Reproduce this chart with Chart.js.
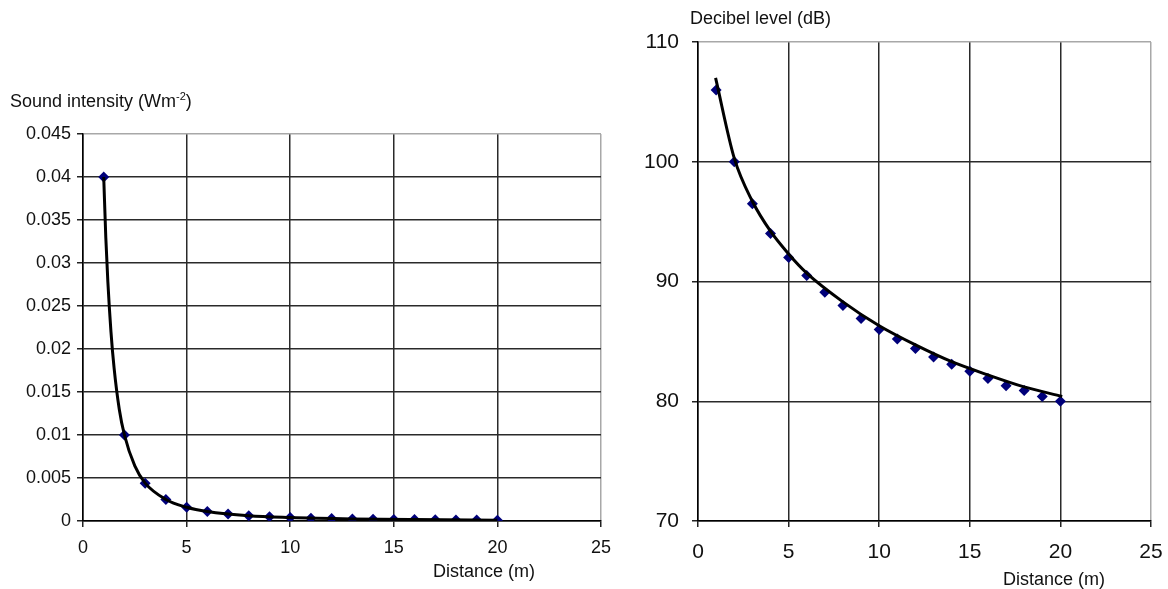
<!DOCTYPE html>
<html>
<head>
<meta charset="utf-8">
<script src="https://cdn.jsdelivr.net/npm/chart.js@4.4.0/dist/chart.umd.min.js"></script>
<style>
  body { margin: 0; background: #fff; width: 1168px; height: 589px; position: relative; overflow: hidden; font-family: "Liberation Sans", Arial, sans-serif; }
  canvas { position: absolute; top: 0; }
  .lbl { position: absolute; font-size: 18px; color: #111; white-space: nowrap; line-height: 20px; }
  .lbl sup { font-size: 11px; vertical-align: 7px; line-height: 0; }
</style>
</head>
<body>
<canvas id="intensitat" width="620" height="589" style="left:0"></canvas>
<canvas id="decibels" width="548" height="589" style="left:620px"></canvas>
<div class="lbl" style="left:10px; top:91px">Sound intensity (Wm<sup>-2</sup>)</div>
<div class="lbl" style="left:433px; top:561px">Distance (m)</div>
<div class="lbl" style="left:690px; top:8px">Decibel level (dB)</div>
<div class="lbl" style="left:1003px; top:569px">Distance (m)</div>
<script>
// distancies mesurades (m)
var distancies = [1, 2, 3, 4, 5, 6, 7, 8, 9, 10, 11, 12, 13, 14, 15, 16, 17, 18, 19, 20];
// intensitat sonora (W m-2)
var intensitats = [0.04, 0.01, 0.0044, 0.0025, 0.0016, 0.0011, 0.0008, 0.0006, 0.0005, 0.0004,
                   0.00033, 0.00028, 0.00024, 0.0002, 0.00018, 0.00016, 0.00014, 0.00012, 0.00011, 0.0001];
// nivell en decibels (dB)
var decibels = [106, 100, 96.5, 94, 92, 90.5, 89.1, 88, 86.9, 86, 85.2, 84.4, 83.7, 83.1, 82.5, 81.9, 81.3, 80.9, 80.4, 80];

// linies de tendencia llegides del grafic
var tendIntX = [1, 1.1, 1.2, 1.35, 1.5, 1.75, 2, 2.5, 3, 4, 5, 6, 8, 10, 13, 16, 20];
var tendIntY = [0.04, 0.033, 0.0278, 0.022, 0.0178, 0.013, 0.01, 0.0064, 0.0044, 0.0025, 0.0016, 0.0011, 0.0006, 0.0004, 0.00024, 0.00016, 0.0001];
var tendDbX = [0.97, 2, 3, 4, 5, 6, 8, 10, 12, 14, 16, 18, 20.1];
var tendDbY = [107, 100.3, 96.7, 94.2, 92.3, 90.7, 88.3, 86.3, 84.7, 83.3, 82.2, 81.2, 80.4];

var xTicks = [0, 5, 10, 15, 20, 25];
var yTicksInt = [0, 0.005, 0.01, 0.015, 0.02, 0.025, 0.03, 0.035, 0.04, 0.045];
var yTicksDb = [70, 80, 90, 100, 110];

function parells(xs, ys) {
    var punts = [];
    for (let i = 0; i < xs.length; i++) {
        punts.push({x: xs[i], y: ys[i]});
    }
    return punts;
}

// la darrera linia de la graella es gris (vora de l'area)
function colorGraella(maxim) {
    return function(ctx) {
        if (ctx.tick && Math.abs(ctx.tick.value - maxim) < 1e-9) return '#a8a8a8';
        return '#2a2a2a';
    };
}

function creaGrafica(id, punts, tendencia, yTicks, midaLletra, opc) {
    var yMin = yTicks[0], yMax = yTicks[yTicks.length - 1];
    return new Chart(document.getElementById(id), {
        type: 'scatter',
        data: {
            datasets: [{
                data: tendencia,
                showLine: true,
                borderColor: '#000',
                borderWidth: 3,
                pointRadius: 0,
                cubicInterpolationMode: 'monotone'
            }, {
                data: punts,
                showLine: false,
                pointStyle: 'rectRot',
                pointRadius: 5.5,
                backgroundColor: '#00007a',
                borderColor: '#00007a',
                borderWidth: 0
            }]
        },
        options: {
            responsive: false,
            animation: false,
            layout: { padding: opc.padding },
            plugins: { legend: { display: false }, tooltip: { enabled: false } },
            scales: {
                x: {
                    type: 'linear',
                    min: 0, max: 25,
                    afterBuildTicks: function(s) { s.ticks = xTicks.map(function(v) { return {value: v}; }); },
                    afterFit: function(s) { s.height = 68; s.paddingLeft = 0; s.paddingRight = 0; },
                    border: { color: '#000', width: 1.5 },
                    grid: { color: colorGraella(25), lineWidth: 1.5, tickLength: 6, tickColor: '#222' },
                    ticks: { color: '#111', padding: opc.xPad, maxRotation: 0, font: { family: 'Liberation Sans', size: midaLletra } }
                },
                y: {
                    min: yMin, max: yMax,
                    afterBuildTicks: function(s) { s.ticks = yTicks.map(function(v) { return {value: v}; }); },
                    afterFit: function(s) { s.width = opc.yWidth; s.paddingTop = 0; s.paddingBottom = 0; },
                    border: { color: '#000', width: 1.5 },
                    grid: { color: colorGraella(yMax), lineWidth: 1.5, tickLength: 6, tickColor: '#222' },
                    ticks: {
                        color: '#111', padding: opc.yPad,
                        font: { family: 'Liberation Sans', size: midaLletra },
                        callback: function(v) { return String(parseFloat(v.toFixed(3))); }
                    }
                }
            }
        }
    });
}

creaGrafica('intensitat', parells(distancies, intensitats), parells(tendIntX, tendIntY), yTicksInt, 18,
    { padding: {left: 0, top: 134, right: 19, bottom: 0}, yWidth: 83, xPad: 10, yPad: 6 });
creaGrafica('decibels', parells(distancies, decibels), parells(tendDbX, tendDbY), yTicksDb, 21,
    { padding: {left: 0, top: 42, right: 17, bottom: 0}, yWidth: 78, xPad: 13, yPad: 13 });
</script>
</body>
</html>
